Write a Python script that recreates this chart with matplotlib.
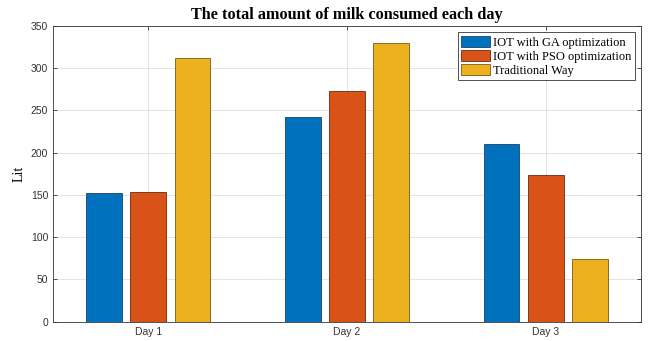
import numpy as np
import matplotlib.pyplot as plt

days = ["Day 1", "Day 2", "Day 3"]
series_names = ["IOT with GA optimization", "IOT with PSO optimization", "Traditional Way"]
ga_values = [152, 242, 210]
pso_values = [154, 273, 174]
traditional_values = [312, 330, 74]
y_ticks = [0, 50, 100, 150, 200, 250, 300, 350]

colors = ["#0072BD", "#D95319", "#EDB120"]
edge_colors = ["#1c3f66", "#6b2a10", "#7a5a10"]

fig = plt.figure(figsize=(6.54, 3.41), dpi=100)
ax = fig.add_axes([53 / 654, 1 - 321.7 / 341, (641 - 53) / 654, (321.7 - 26) / 341])

x = np.arange(1, len(days) + 1)
group_step = 0.222
bar_width = 0.18
for i, (vals, name) in enumerate(zip([ga_values, pso_values, traditional_values], series_names)):
    ax.bar(x + (i - 1) * group_step, vals, width=bar_width, color=colors[i],
           edgecolor=edge_colors[i], linewidth=0.6, label=name, zorder=3)

ax.set_xlim(0.52, 3.48)
ax.set_ylim(0, 350)
ax.set_xticks(x)
ax.set_xticklabels(days, fontfamily="Liberation Sans", fontsize=7.5, color="#333333")
ax.set_yticks(y_ticks)
ax.set_yticklabels([str(t) for t in y_ticks], fontfamily="Liberation Sans", fontsize=7.5, color="#333333")
ax.tick_params(direction="in", length=3, width=0.6, colors="#333333", top=True, right=True,
               labelcolor="#333333")
ax.grid(True, color="#e4e4e4", linewidth=0.7, zorder=0)
for s in ax.spines.values():
    s.set_color("#333333")
    s.set_linewidth(0.6)

ax.set_ylabel("Lit", fontfamily="Liberation Serif", fontsize=10)
ax.set_title("The total amount of milk consumed each day", fontfamily="Liberation Serif",
             fontweight="bold", fontsize=11.7, pad=5)

leg = ax.legend(loc="upper right", prop={"family": "Liberation Serif", "size": 9},
                frameon=True, fancybox=False, edgecolor="#333333", framealpha=1,
                handlelength=2.3, handleheight=0.95, handletextpad=0.2, borderpad=0.3,
                labelspacing=0.1, borderaxespad=0.5)
leg.get_frame().set_linewidth(0.6)

fig.savefig("out.png", dpi=100)
